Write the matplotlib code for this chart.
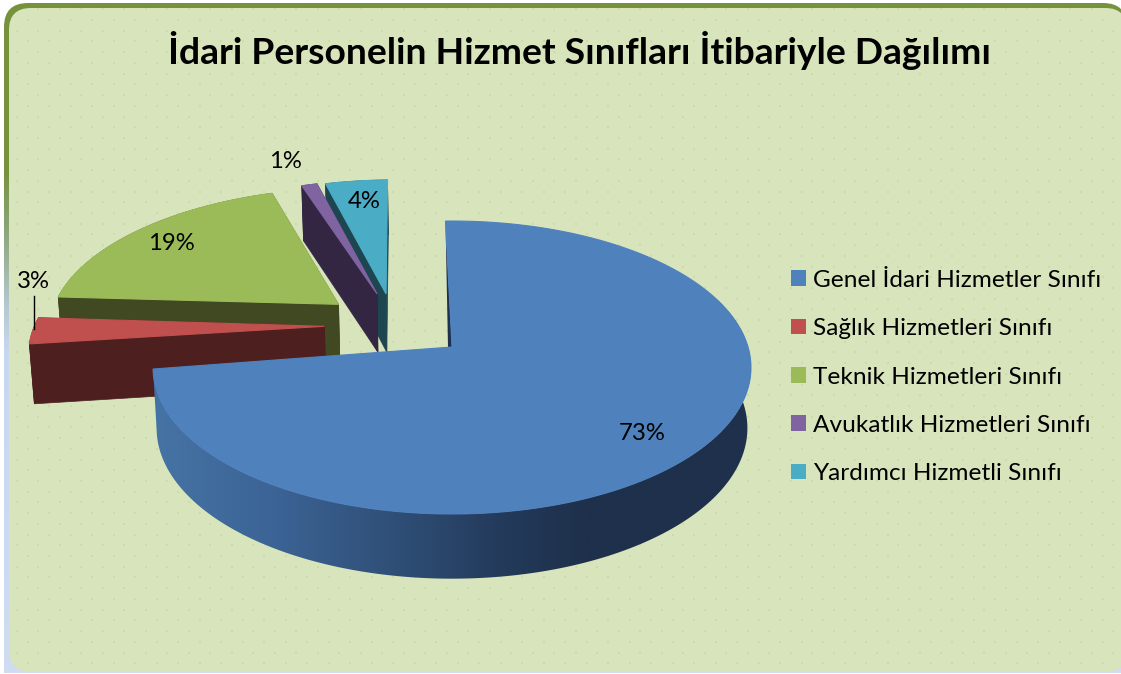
import numpy as np
import matplotlib
matplotlib.use("Agg")
import matplotlib.pyplot as plt
from matplotlib.colors import LinearSegmentedColormap
from matplotlib.patches import FancyBboxPatch, Patch, Polygon

plt.rcParams['font.family'] = ['Lato', 'DejaVu Sans']

title = "İdari Personelin Hizmet Sınıfları İtibariyle Dağılımı"
categories = ["Genel İdari Hizmetler Sınıfı", "Sağlık Hizmetleri Sınıfı", "Teknik Hizmetleri Sınıfı",
              "Avukatlık Hizmetleri Sınıfı", "Yardımcı Hizmetli Sınıfı"]
values = [73, 3, 19, 1, 4]

top_colors = ["#4F81BD", "#C0504D", "#9BBB59", "#8064A2", "#4BACC6"]
side_colors = ["#1E304B", "#4D1F1F", "#404921", "#322642", "#1E4650"]

# explosion of every slice on the pie plane, small turn in percent, and where its label sits
offsets = [(0, 0), (-0.44, 0.147), (-0.40, 0.31), (-0.267, 0.39), (-0.235, 0.39)]
turns = [-0.4, 0, -0.1, -0.44, -0.4]
label_pos = [(642, 434), (33, 282), (171, 244), (285, 161), (364, 201)]

# camera for the 3d look
cx, cy = 452, 347
F, H, p, q, D = 296, 143.6, 0.14, 0.012, 60


def project(x, y, d=0.0):
    w = 1 + p * y
    sx = cx + F * x / (w * (1 + q * d))
    sy = cy - H * y / w + D * d / np.sqrt(w)
    return sx, sy


def slice_points(start, share, off):
    # start and share in percent, clockwise from 12 o'clock
    t = np.radians(np.linspace(start, start + share, max(int(share * 4), 8)) * 3.6)
    return np.sin(t) + off[0], np.cos(t) + off[1]


fig = plt.figure(figsize=(11.21, 6.74), dpi=100)
ax = fig.add_axes([0, 0, 1, 1])
ax.set_axis_off()

# frame, green at the top fading to pale blue
frame_cmap = LinearSegmentedColormap.from_list("frame", [(0, "#76923C"), (0.25, "#76923C"), (0.34, "#8CA578"),
                                                         (0.45, "#B4C8CD"), (0.52, "#C8D7F0"), (1, "#CFDCF2")])
frame = FancyBboxPatch((4, 3), 1123, 700, boxstyle="round,pad=0,rounding_size=24", transform=ax.transData,
                       facecolor="none", edgecolor="none")
ax.add_patch(frame)
im = ax.imshow(np.linspace(0, 1, 300)[:, None], cmap=frame_cmap, extent=(0, 1121, 674, 0), aspect="auto", zorder=1)
im.set_clip_path(frame)

panel = FancyBboxPatch((9, 8), 1118, 664, boxstyle="round,pad=0,rounding_size=22", facecolor="#D8E4BC",
                       edgecolor="none", zorder=2)
ax.add_patch(panel)
ax.fill([0, 1121, 1121, 0], [672.5, 672.5, 674, 674], color="white", lw=0, zorder=2.5)

# dotted texture of the background
dot_y = 9.3 + 10.72 * np.arange(62)
for i, y in enumerate(dot_y):
    xs = np.arange(16.7 if i % 2 == 0 else 27.5, 1121, 21.5)
    if i == 0:
        xs = xs[1:]
    ax.scatter(xs, np.full(xs.shape, y), s=4, marker="s", color="#CBDCAA", linewidths=0, zorder=3, clip_path=panel)

# slices back to front
starts = np.concatenate(([0], np.cumsum(values)[:-1]))
for i in [4, 3, 2, 1, 0]:
    ox, oy = slice_points(starts[i] + turns[i], values[i], offsets[i])
    ax_, ay_ = offsets[i]
    tx, ty = project(ox, oy)
    bx, by = project(ox, oy, 1)
    tax, tay = project(ax_, ay_)
    bax, bay = project(ax_, ay_, 1)
    z = 10 + (4 - i)
    if i == 0:
        # gradient on the round side
        side_cmap = LinearSegmentedColormap.from_list("side", [(0, "#4673A5"), (0.27, "#3C6496"), (0.54, "#305078"),
                                                              (0.81, "#233A5A"), (1, "#1E304B")])
        band = Polygon(np.column_stack((np.r_[tx, bx[::-1]], np.r_[ty, by[::-1]])), closed=True, transform=ax.transData,
                       facecolor="none", edgecolor="none")
        ax.add_patch(band)
        grad = ax.imshow(np.clip((np.linspace(150, 760, 400) - 153) / 435, 0, 1)[None, :], cmap=side_cmap,
                         extent=(150, 760, 600, 300), aspect="auto", vmin=0, vmax=1, zorder=z)
        grad.set_clip_path(band)
        ax.fill([tx[0], tax - 4, tax], [ty[0], tay, tay], color=side_colors[0], lw=0, zorder=z)
    else:
        ax.fill(np.r_[tx, bx[::-1]], np.r_[ty, by[::-1]], color=side_colors[i], lw=0.5, zorder=z)
        ax.fill([tax, tx[0], bx[0], bax], [tay, ty[0], by[0], bay], color=side_colors[i], lw=0.5, zorder=z)
        ax.fill([tax, tx[-1], bx[-1], bax], [tay, ty[-1], by[-1], bay], color=side_colors[i], lw=0.5, zorder=z)
    ax.fill(np.r_[tax, tx], np.r_[tay, ty], color=top_colors[i], lw=0.8, zorder=z + 0.5)

# value labels
for v, (lx, ly) in zip(values, label_pos):
    ax.text(lx, ly, f"{v}%", fontsize=17.2, color="black", ha="center", va="center", zorder=20)
ax.plot([34, 34], [296, 329], color="black", lw=1, zorder=20)

ax.text(579, 51, title, fontsize=26.8, fontweight="bold", color="black", ha="center", va="center", zorder=20)

handles = [Patch(facecolor=c, edgecolor="none") for c in top_colors]
leg = ax.legend(handles, categories, frameon=False, fontsize=17.6, loc="center left",
                bbox_to_anchor=(769 / 1121, 1 - 377 / 674), handlelength=0.61, handleheight=0.61, handletextpad=0.3,
                labelspacing=1.12, labelcolor="black")
leg.set_zorder(20)

ax.set_xlim(0, 1121)
ax.set_ylim(674, 0)

fig.savefig("out.png", dpi=100, facecolor="white")
